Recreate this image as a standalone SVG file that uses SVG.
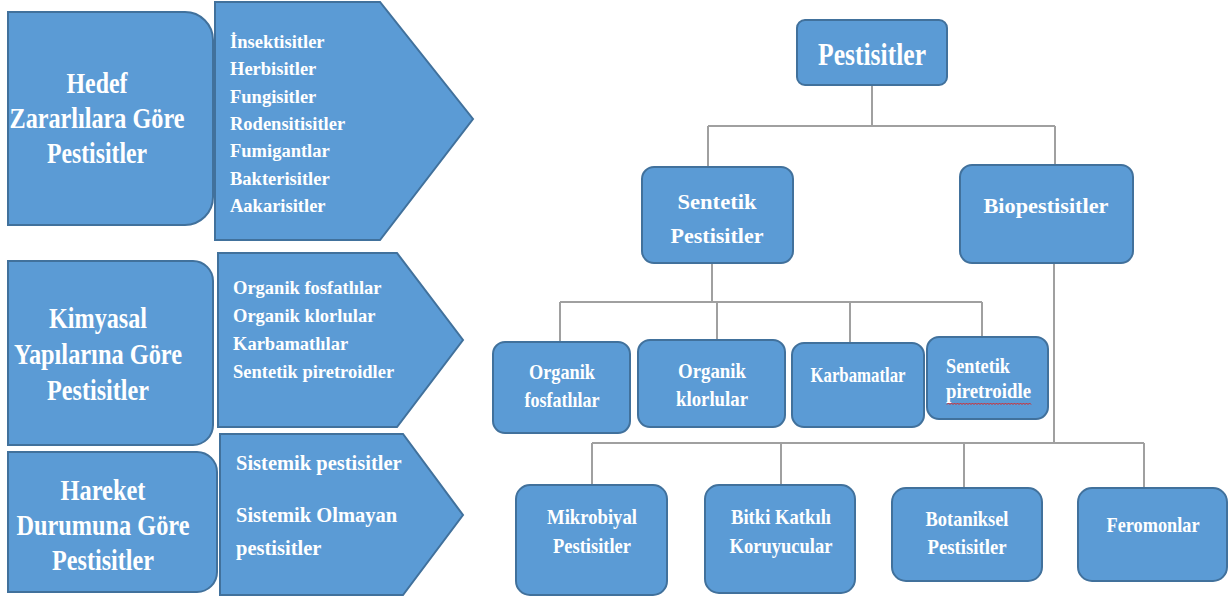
<svg xmlns="http://www.w3.org/2000/svg" width="1229" height="598" viewBox="0 0 1229 598">
<style>
.bx{fill:#5B9BD5;stroke:#41719C;stroke-width:2}
.ln{fill:none;stroke:#A0A0A0;stroke-width:2}
text{font-family:"Liberation Serif","Times New Roman",serif;font-weight:bold;fill:#FFFFFF}
.big{font-size:29px;text-anchor:middle}
.top{font-size:32px;text-anchor:middle}
.mid{font-size:22px;text-anchor:middle}
.sm{font-size:21px;text-anchor:middle}
.lst{font-size:18.5px}
.lst3{font-size:20.5px}
</style>
<rect width="1229" height="598" fill="#FFFFFF"/>

<g id="hedef">
<path class="bx" d="M8,12 H185 A28,28 0 0 1 213,40 V197 A28,28 0 0 1 185,225 H8 Z"/>
<text class="big" x="97" y="93" textLength="61" lengthAdjust="spacingAndGlyphs">Hedef</text>
<text class="big" x="97" y="128" textLength="175" lengthAdjust="spacingAndGlyphs">Zararlılara Göre</text>
<text class="big" x="97" y="163" textLength="100" lengthAdjust="spacingAndGlyphs">Pestisitler</text>
</g>
<g id="hedef-list">
<polygon class="bx" points="215,2 380,2 473,119 380,240 215,240"/>
<text class="lst" x="230" y="48">İnsektisitler</text>
<text class="lst" x="230" y="75.3">Herbisitler</text>
<text class="lst" x="230" y="102.6">Fungisitler</text>
<text class="lst" x="230" y="129.9">Rodensitisitler</text>
<text class="lst" x="230" y="157.2">Fumigantlar</text>
<text class="lst" x="230" y="184.5">Bakterisitler</text>
<text class="lst" x="230" y="211.8">Aakarisitler</text>
</g>

<g id="kimyasal">
<path class="bx" d="M8,261 H193 A20,20 0 0 1 213,281 V425 A20,20 0 0 1 193,445 H8 Z"/>
<text class="big" x="98" y="328" textLength="98" lengthAdjust="spacingAndGlyphs">Kimyasal</text>
<text class="big" x="98" y="364" textLength="168" lengthAdjust="spacingAndGlyphs">Yapılarına Göre</text>
<text class="big" x="98" y="400" textLength="102" lengthAdjust="spacingAndGlyphs">Pestisitler</text>
</g>
<g id="kimyasal-list">
<polygon class="bx" points="218,253 397,253 463,340 397,427 218,427"/>
<text class="lst" x="233" y="294">Organik fosfatlılar</text>
<text class="lst" x="233" y="322">Organik klorlular</text>
<text class="lst" x="233" y="349.5">Karbamatlılar</text>
<text class="lst" x="233" y="377.5">Sentetik piretroidler</text>
</g>

<g id="hareket">
<path class="bx" d="M8,452 H197 A20,20 0 0 1 217,472 V572 A20,20 0 0 1 197,592 H8 Z"/>
<text class="big" x="103" y="500" textLength="85" lengthAdjust="spacingAndGlyphs">Hareket</text>
<text class="big" x="103" y="535" textLength="173" lengthAdjust="spacingAndGlyphs">Durumuna Göre</text>
<text class="big" x="103" y="570" textLength="102" lengthAdjust="spacingAndGlyphs">Pestisitler</text>
</g>
<g id="hareket-list">
<polygon class="bx" points="220,434 403,434 463,515 403,595 220,595"/>
<text class="lst3" x="236" y="470">Sistemik pestisitler</text>
<text class="lst3" x="236" y="522">Sistemik Olmayan</text>
<text class="lst3" x="236" y="555">pestisitler</text>
</g>

<g id="connectors">
<path class="ln" d="M872,85 V126 M708,126 H1055 M708,126 V167 M1055,126 V165"/>
<path class="ln" d="M712,263 V302 M560,302 H982 M560,302 V342 M717,302 V340 M850,302 V343 M982,302 V337"/>
<path class="ln" d="M1054,263 V443 M592,443 H1144 M592,443 V485 M781,443 V485 M964,443 V488 M1144,443 V488"/>
</g>

<g id="pestisitler">
<rect class="bx" x="797" y="20" width="150" height="65" rx="8"/>
<text class="top" x="872" y="65" textLength="108" lengthAdjust="spacingAndGlyphs">Pestisitler</text>
</g>
<g id="sentetik">
<rect class="bx" x="642" y="167" width="151" height="96" rx="12"/>
<text class="mid" x="717" y="209" textLength="79" lengthAdjust="spacingAndGlyphs">Sentetik</text>
<text class="mid" x="717" y="243" textLength="93" lengthAdjust="spacingAndGlyphs">Pestisitler</text>
</g>
<g id="biopestisitler">
<rect class="bx" x="960" y="165" width="173" height="98" rx="12"/>
<text class="mid" x="1046" y="213" textLength="125" lengthAdjust="spacingAndGlyphs">Biopestisitler</text>
</g>
<g id="organik-fosfatlilar">
<rect class="bx" x="493" y="342" width="137" height="91" rx="12"/>
<text class="sm" x="562" y="379" textLength="66" lengthAdjust="spacingAndGlyphs">Organik</text>
<text class="sm" x="562" y="407" textLength="75" lengthAdjust="spacingAndGlyphs">fosfatlılar</text>
</g>
<g id="organik-klorlular">
<rect class="bx" x="638" y="340" width="147" height="87" rx="12"/>
<text class="sm" x="712" y="378" textLength="68" lengthAdjust="spacingAndGlyphs">Organik</text>
<text class="sm" x="712" y="406" textLength="72" lengthAdjust="spacingAndGlyphs">klorlular</text>
</g>
<g id="karbamatlar">
<rect class="bx" x="792" y="343" width="132" height="84" rx="12"/>
<text class="sm" x="858" y="382" textLength="95" lengthAdjust="spacingAndGlyphs">Karbamatlar</text>
</g>
<g id="sentetik-piretroidle">
<rect class="bx" x="927" y="337" width="121" height="82" rx="12"/>
<text style="font-size:21px" x="946" y="373" textLength="64" lengthAdjust="spacingAndGlyphs">Sentetik</text>
<text style="font-size:21px" x="946" y="398" textLength="85" lengthAdjust="spacingAndGlyphs">piretroidle</text>
<path d="M947,404.5 l1.5,-1.5 l1.5,1.5 l1.5,-1.5 l1.5,1.5 l1.5,-1.5 l1.5,1.5 l1.5,-1.5 l1.5,1.5 l1.5,-1.5 l1.5,1.5 l1.5,-1.5 l1.5,1.5 l1.5,-1.5 l1.5,1.5 l1.5,-1.5 l1.5,1.5 l1.5,-1.5 l1.5,1.5 l1.5,-1.5 l1.5,1.5 l1.5,-1.5 l1.5,1.5 l1.5,-1.5 l1.5,1.5 l1.5,-1.5 l1.5,1.5 l1.5,-1.5 l1.5,1.5 l1.5,-1.5 l1.5,1.5 l1.5,-1.5 l1.5,1.5 l1.5,-1.5 l1.5,1.5 l1.5,-1.5 l1.5,1.5 l1.5,-1.5 l1.5,1.5 l1.5,-1.5 l1.5,1.5 l1.5,-1.5 l1.5,1.5 l1.5,-1.5 l1.5,1.5 l1.5,-1.5 l1.5,1.5 l1.5,-1.5 l1.5,1.5 l1.5,-1.5 l1.5,1.5 l1.5,-1.5 l1.5,1.5 l1.5,-1.5 l1.5,1.5 l1.5,-1.5 l1.5,1.5" fill="none" stroke="#E02020" stroke-width="1"/>
</g>
<g id="mikrobiyal">
<rect class="bx" x="516" y="485" width="151" height="110" rx="14"/>
<text class="sm" x="592" y="524" textLength="90" lengthAdjust="spacingAndGlyphs">Mikrobiyal</text>
<text class="sm" x="592" y="553" textLength="78" lengthAdjust="spacingAndGlyphs">Pestisitler</text>
</g>
<g id="bitki">
<rect class="bx" x="705" y="485" width="150" height="108" rx="14"/>
<text class="sm" x="781" y="524" textLength="100" lengthAdjust="spacingAndGlyphs">Bitki Katkılı</text>
<text class="sm" x="781" y="553" textLength="103" lengthAdjust="spacingAndGlyphs">Koruyucular</text>
</g>
<g id="botaniksel">
<rect class="bx" x="892" y="488" width="150" height="93" rx="14"/>
<text class="sm" x="967" y="526" textLength="83" lengthAdjust="spacingAndGlyphs">Botaniksel</text>
<text class="sm" x="967" y="554" textLength="79" lengthAdjust="spacingAndGlyphs">Pestisitler</text>
</g>
<g id="feromonlar">
<rect class="bx" x="1078" y="488" width="149" height="93" rx="14"/>
<text class="sm" x="1153" y="532" textLength="93" lengthAdjust="spacingAndGlyphs">Feromonlar</text>
</g>
</svg>
